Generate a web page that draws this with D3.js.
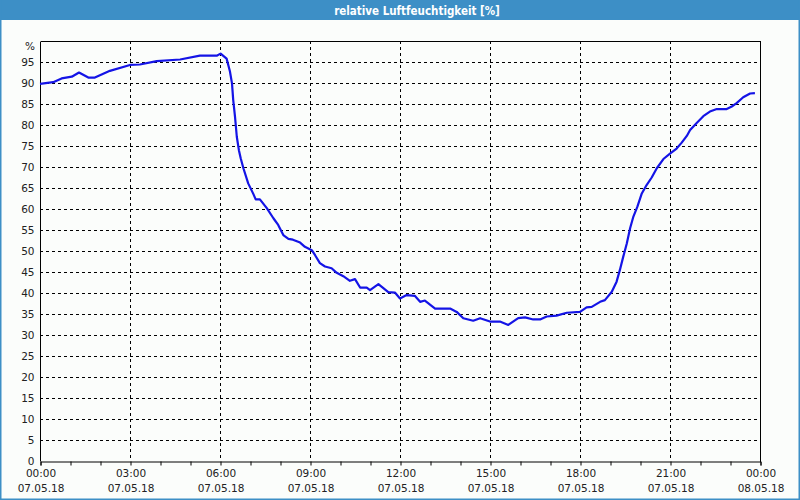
<!DOCTYPE html>
<html><head><meta charset="utf-8">
<script src="https://cdn.jsdelivr.net/npm/d3@7"></script>
<style>
html,body{margin:0;padding:0;background:#fbfdfb;}
svg{display:block;}
</style></head>
<body>
<svg id="c" width="800" height="500"></svg>
<script>
const title = "relative Luftfeuchtigkeit [%]";
const unitLabel = "%";
const startDate = "2018-05-07T00:00:00Z";
// hours since 07.05.18 00:00
const hours = [0,0.44,0.72,1.06,1.3,1.61,1.83,2.33,3.0,3.33,3.89,4.67,5.33,5.89,6.02,6.22,6.33,6.4,6.44,6.5,6.56,6.63,6.69,6.78,6.94,7.11,7.19,7.33,7.56,7.78,7.94,8.11,8.28,8.43,8.67,8.83,9.06,9.17,9.33,9.5,9.72,9.89,10.11,10.33,10.5,10.67,10.89,11.0,11.28,11.61,11.83,12.0,12.22,12.5,12.67,12.83,13.17,13.67,13.89,14.11,14.44,14.67,15.0,15.33,15.61,15.94,16.17,16.44,16.67,16.89,17.22,17.56,18.0,18.22,18.39,18.67,18.83,19.06,19.22,19.33,19.44,19.56,19.67,19.78,19.91,20.06,20.22,20.39,20.56,20.78,21.0,21.22,21.39,21.56,21.67,21.89,22.11,22.33,22.56,22.89,23.06,23.22,23.44,23.67,23.83];
const humidity = [89.8,90.2,91.1,91.5,92.5,91.3,91.3,92.9,94.3,94.4,95.2,95.6,96.5,96.5,97.0,95.8,92.8,89.9,86,82,77.2,74.0,72.1,69.7,66.1,63.6,62.3,62.3,60.2,57.8,56.2,53.8,52.9,52.7,52.0,51.0,50.2,49.0,47.1,46.3,45.9,44.8,44.0,42.9,43.3,41.3,41.3,40.7,42.1,40.2,40.1,38.7,39.5,39.3,37.9,38.2,36.3,36.3,35.5,34.0,33.4,34.0,33.2,33.2,32.4,34.0,34.2,33.7,33.7,34.4,34.6,35.3,35.5,36.6,36.7,37.9,38.3,40.3,42.7,45.5,48.6,51.8,55.4,58.2,60.5,63.7,65.7,67.5,69.7,71.9,73.2,74.4,75.8,77.4,78.8,80.5,82.1,83.2,83.8,83.8,84.4,85.2,86.6,87.5,87.6];
const yTicks = [0,5,10,15,20,25,30,35,40,45,50,55,60,65,70,75,80,85,90,95];
const majorTickHours = [0,3,6,9,12,15,18,21,24];

const t0 = new Date(startDate).getTime();
const toDate = h => new Date(t0 + h*3600e3);
const data = hours.map((h,i)=>({t:toDate(h), v:humidity[i]}));

const svg = d3.select("#c");
const L=40, R=760, T=41, B=461;
const x = d3.scaleUtc().domain([toDate(0), toDate(24)]).range([L,R]);
const y = d3.scaleLinear().domain([0,100]).range([B,T]);

// window frame
svg.append("rect").attr("x",0).attr("y",0).attr("width",800).attr("height",500).attr("fill","#fbfdfb");
svg.append("rect").attr("x",0).attr("y",0).attr("width",800).attr("height",20).attr("fill","#3d8fc6");
svg.append("rect").attr("x",0).attr("y",0).attr("width",1.5).attr("height",500).attr("fill","#3d8fc6");
svg.append("rect").attr("x",798.5).attr("y",0).attr("width",1.5).attr("height",500).attr("fill","#3d8fc6");
svg.append("rect").attr("x",0).attr("y",498.5).attr("width",800).attr("height",1.5).attr("fill","#3d8fc6");
svg.append("text").attr("x",417).attr("y",14.5).attr("text-anchor","middle")
  .attr("fill","#ffffff").attr("font-family","'DejaVu Sans Condensed','DejaVu Sans',sans-serif")
  .attr("font-weight","bold").attr("font-size","11.5px").text(title);

// grid
const grid = svg.append("g").attr("stroke","#000").attr("stroke-width",1).attr("stroke-dasharray","3,3").attr("shape-rendering","crispEdges");
yTicks.filter(v=>v>0).forEach(v=>{
  grid.append("line").attr("x1",L).attr("x2",R).attr("y1",Math.round(y(v))+0.5).attr("y2",Math.round(y(v))+0.5);
});
majorTickHours.filter(h=>h>0&&h<24).forEach(h=>{
  const xx = Math.round(x(toDate(h)))+0.5;
  grid.append("line").attr("x1",xx).attr("x2",xx).attr("y1",T).attr("y2",B);
});

// frame (top, right)
svg.append("path").attr("d",`M${L+0.5},${T+0.5}H${R+0.5}V${B+0.5}`).attr("fill","none").attr("stroke","#000").attr("shape-rendering","crispEdges");

const fontFam = "'DejaVu Sans',Verdana,sans-serif";
// y axis
const yAxis = svg.append("g").attr("transform",`translate(${L+0.5},0.5)`)
  .call(d3.axisLeft(y).tickValues(yTicks).tickSize(0).tickPadding(6).tickFormat(d3.format("d")));
yAxis.select(".domain").attr("stroke","#000").attr("d",`M0,${T}V${B}`);
yAxis.selectAll("text").attr("font-family",fontFam).attr("font-size","10.5px").attr("fill","#222");
svg.append("text").attr("x",35).attr("y",50).attr("text-anchor","end").attr("font-family",fontFam).attr("font-size","10.5px").attr("fill","#222").text(unitLabel);

// x minor ticks (hourly)
const hourly = d3.range(0,25).map(toDate);
const xMinor = svg.append("g").attr("transform",`translate(0.5,${B+0.5})`)
  .call(d3.axisBottom(x).tickValues(hourly).tickSize(4).tickFormat(""));
xMinor.select(".domain").attr("stroke","#000");
xMinor.selectAll("line").attr("stroke","#000");

// x major labels
const fTime = d3.utcFormat("%H:%M"), fDate = d3.utcFormat("%d.%m.%y");
const xMajor = svg.append("g").attr("transform",`translate(0.5,${B+0.5})`)
  .call(d3.axisBottom(x).tickValues(majorTickHours.map(toDate)).tickSize(0).tickPadding(8).tickFormat(""));
xMajor.select(".domain").remove();
xMajor.selectAll(".tick text").each(function(d){
  const t = d3.select(this).attr("font-family",fontFam).attr("font-size","10.5px").attr("fill","#222");
  t.append("tspan").attr("x",0).attr("dy","0.71em").text(fTime(d));
  t.append("tspan").attr("x",0).attr("dy","1.45em").text(fDate(d));
}).attr("dy",null);

// line
svg.append("path").datum(data)
  .attr("fill","none").attr("stroke","#1414e6").attr("stroke-width",2.2).attr("stroke-linejoin","round")
  .attr("d", d3.line().x(d=>x(d.t)).y(d=>y(d.v)));
</script>
</body></html>
